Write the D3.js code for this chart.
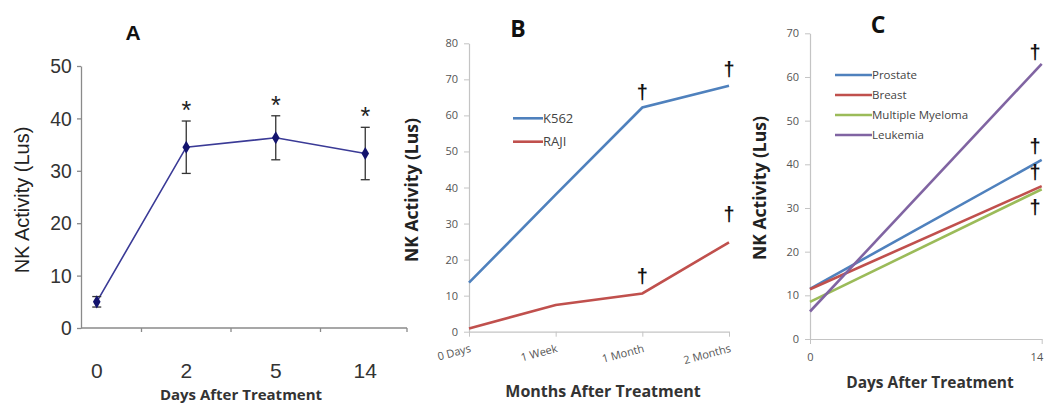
<!DOCTYPE html>
<html><head><meta charset="utf-8">
<script src="https://cdn.jsdelivr.net/npm/d3@7"></script>
<style>
html,body{margin:0;padding:0;background:#fff;}
svg{display:block;}
</style></head>
<body>
<svg id="chart" width="1044" height="403"></svg>
<script>
// ---------- DATA ----------
// Panel A
const daysA = ["0", "2", "5", "14"];
const meanA = [5.0, 34.5, 36.3, 33.3];
const errA = [1.0, 5.0, 4.2, 5.0];
const ticksA = [0, 10, 20, 30, 40, 50];
// Panel B
const catsB = ["0 Days", "1 Week", "1 Month", "2 Months"];
const k562 = [13.6, 38.0, 62.2, 68.2];
const raji = [0.9, 7.4, 10.6, 24.8];
const ticksB = [0, 10, 20, 30, 40, 50, 60, 70, 80];
const daggerB = [{c: "1 Month", v: 66.3}, {c: "2 Months", v: 72.6}, {c: "1 Month", v: 15.3}, {c: "2 Months", v: 32.4}];
// Panel C
const daysC = [0, 14];
const seriesNamesC = ["Prostate", "Breast", "Multiple Myeloma", "Leukemia"];
const prostate = [11.5, 41.0];
const breast = [11.4, 35.0];
const myeloma = [8.5, 34.3];
const leukemia = [6.3, 63.0];
const ticksC = [0, 10, 20, 30, 40, 50, 60, 70];
const daggerC = [{d: 13.6, v: 65.5}, {d: 13.6, v: 44.0}, {d: 13.6, v: 38.0}, {d: 13.6, v: 30.2}];

const svg = d3.select("#chart");
svg.append("rect").attr("width", 1044).attr("height", 403).attr("fill", "#fff");

const calib = "'Open Sans', 'Noto Sans', sans-serif";
const arial = "'Liberation Sans', Arial, sans-serif";

// ---------- PANEL A ----------
(function () {
  const g = svg.append("g");
  const y = d3.scaleLinear().domain([0, 50]).range([328, 66]);
  const x = d3.scaleBand().domain(daysA).range([52, 410]);
  const cx = d => x(d) + x.bandwidth() / 2;
  const axisCol = "#8a8a8a";

  const ya = g.append("g").attr("transform", "translate(81,0)")
    .call(d3.axisLeft(y).tickValues(ticksA).tickSize(4).tickSizeOuter(0).tickPadding(6));
  ya.select(".domain").attr("stroke", axisCol).attr("stroke-width", 1.3);
  ya.selectAll(".tick line").attr("stroke", axisCol).attr("stroke-width", 1.3);
  ya.selectAll(".tick text").attr("font-family", arial).attr("font-size", 21).attr("fill", "#333")
    .attr("transform", "scale(0.92,1)");

  g.append("line").attr("x1", 81).attr("x2", x.range()[1] - 3).attr("y1", y(0)).attr("y2", y(0))
    .attr("stroke", axisCol).attr("stroke-width", 1.3);
  g.selectAll(".xt").data(daysA).enter().append("line")
    .attr("x1", d => x(d) + x.bandwidth() - (d === "14" ? 3 : 0))
    .attr("x2", d => x(d) + x.bandwidth() - (d === "14" ? 3 : 0))
    .attr("y1", y(0)).attr("y2", y(0) + 4).attr("stroke", axisCol).attr("stroke-width", 1.3);
  g.selectAll(".xl").data(daysA).enter().append("text")
    .attr("x", d => cx(d)).attr("y", 378).attr("text-anchor", "middle")
    .attr("font-family", arial).attr("font-size", 21).attr("fill", "#333").text(d => d);

  const pts = daysA.map((d, i) => [cx(d), y(meanA[i])]);
  g.append("path").attr("d", d3.line()(pts)).attr("fill", "none").attr("stroke", "#3a3a96").attr("stroke-width", 1.6);
  daysA.forEach((d, i) => {
    const X = cx(d);
    const t = y(meanA[i] + errA[i]), b = y(meanA[i] - errA[i]);
    g.append("line").attr("x1", X).attr("x2", X).attr("y1", t).attr("y2", b).attr("stroke", "#333").attr("stroke-width", 1.3);
    [t, b].forEach(yy => g.append("line").attr("x1", X - 4.5).attr("x2", X + 4.5).attr("y1", yy).attr("y2", yy).attr("stroke", "#333").attr("stroke-width", 1.3));
  });
  g.selectAll(".mk").data(daysA).enter().append("path")
    .attr("d", d3.symbol().type(d3.symbolDiamond).size(50))
    .attr("transform", (d, i) => `translate(${cx(d)},${y(meanA[i])})`)
    .attr("fill", "#14146e");
  g.selectAll(".ast").data(daysA.slice(1)).enter().append("text")
    .attr("x", d => cx(d)).attr("y", (d, i) => y(meanA[i + 1] + errA[i + 1]) - 2)
    .attr("text-anchor", "middle").attr("font-family", arial).attr("font-size", 25).attr("fill", "#222").text("*");

  g.append("text").attr("x", 133).attr("y", 40).attr("text-anchor", "middle")
    .attr("font-family", arial).attr("font-weight", "bold").attr("font-size", 21).attr("fill", "#111").text("A");
  g.append("text").attr("transform", "translate(29,200) rotate(-90)").attr("text-anchor", "middle")
    .attr("font-family", arial).attr("font-size", 20).attr("fill", "#222").text("NK Activity (Lus)");
  g.append("text").attr("x", 241).attr("y", 400).attr("text-anchor", "middle")
    .attr("font-family", calib).attr("font-weight", "bold").attr("font-size", 15).attr("fill", "#333").text("Days After Treatment");
})();

// ---------- PANEL B ----------
(function () {
  const g = svg.append("g");
  const y = d3.scaleLinear().domain([0, 80]).range([331.7, 43.3]);
  const x = d3.scalePoint().domain(catsB).range([469, 729]);
  const axisCol = "#c4c4c4";

  const ya = g.append("g").attr("transform", "translate(469,0)")
    .call(d3.axisLeft(y).tickValues(ticksB).tickSize(5).tickSizeOuter(0).tickPadding(6));
  ya.select(".domain").attr("stroke", axisCol).attr("stroke-width", 1.2);
  ya.selectAll(".tick line").attr("stroke", axisCol);
  ya.selectAll(".tick text").attr("font-family", calib).attr("font-size", 11).attr("fill", "#555");

  const xa = g.append("g").attr("transform", `translate(0,${y(0)})`)
    .call(d3.axisBottom(x).tickSize(5).tickSizeOuter(0));
  xa.select(".domain").attr("stroke", axisCol).attr("stroke-width", 1.2);
  xa.selectAll(".tick line").attr("stroke", axisCol);
  xa.selectAll(".tick text").attr("font-family", calib).attr("font-size", 11).attr("fill", "#555")
    .attr("text-anchor", "end").attr("dy", 0).attr("y", 0)
    .attr("transform", "translate(2,20) rotate(-15)");

  const line = d3.line().x((d, i) => x(catsB[i])).y(d => y(d));
  g.append("path").attr("d", line(k562)).attr("fill", "none").attr("stroke", "#4f81bd").attr("stroke-width", 2.6);
  g.append("path").attr("d", line(raji)).attr("fill", "none").attr("stroke", "#c0504d").attr("stroke-width", 2.6);

  g.selectAll(".dg").data(daggerB).enter().append("text")
    .attr("x", d => x(d.c)).attr("y", d => y(d.v)).attr("dy", "0.32em").attr("text-anchor", "middle")
    .attr("font-family", arial).attr("font-weight", "bold").attr("font-size", 20).attr("fill", "#111").text("\u2020");

  const leg = [["K562", "#4f81bd"], ["RAJI", "#c0504d"]];
  leg.forEach((l, i) => {
    const yy = 118.3 + i * 23.4;
    g.append("line").attr("x1", 513).attr("x2", 543).attr("y1", yy).attr("y2", yy).attr("stroke", l[1]).attr("stroke-width", 2.6);
    g.append("text").attr("x", 543).attr("y", yy).attr("dy", "0.35em").attr("font-family", calib).attr("font-size", 13)
      .attr("fill", "#444").text(l[0]);
  });

  g.append("text").attr("x", 518).attr("y", 37).attr("text-anchor", "middle")
    .attr("font-family", calib).attr("font-weight", "bold").attr("font-size", 23).attr("fill", "#111").text("B");
  g.append("text").attr("transform", "translate(418,190) rotate(-90)").attr("text-anchor", "middle")
    .attr("font-family", calib).attr("font-weight", "bold").attr("font-size", 17.5).attr("fill", "#222").text("NK Activity (Lus)");
  g.append("text").attr("x", 603).attr("y", 397).attr("text-anchor", "middle")
    .attr("font-family", calib).attr("font-weight", "bold").attr("font-size", 16).attr("fill", "#333").text("Months After Treatment");
})();

// ---------- PANEL C ----------
(function () {
  const g = svg.append("g");
  const y = d3.scaleLinear().domain([0, 70]).range([339, 33.3]);
  const x = d3.scaleLinear().domain([0, 14]).range([810, 1041.7]);
  const axisCol = "#c4c4c4";

  const ya = g.append("g").attr("transform", "translate(810,0)")
    .call(d3.axisLeft(y).tickValues(ticksC).tickSize(5).tickSizeOuter(0).tickPadding(6));
  ya.select(".domain").attr("stroke", axisCol).attr("stroke-width", 1.2);
  ya.selectAll(".tick line").attr("stroke", axisCol);
  ya.selectAll(".tick text").attr("font-family", calib).attr("font-size", 11).attr("fill", "#555");

  const xa = g.append("g").attr("transform", `translate(0,${y(0)})`)
    .call(d3.axisBottom(x).tickValues(daysC).tickSize(5).tickSizeOuter(0).tickPadding(9));
  xa.select(".domain").attr("stroke", axisCol).attr("stroke-width", 1.2);
  xa.selectAll(".tick line").attr("stroke", axisCol);
  xa.selectAll(".tick text").attr("font-family", calib).attr("font-size", 11).attr("fill", "#555")
    .attr("text-anchor", d => d === 14 ? "end" : "middle").attr("dx", d => d === 14 ? 1 : 0);

  const ser = [prostate, breast, myeloma, leukemia];
  const cols = ["#4f81bd", "#c0504d", "#9bbb59", "#8064a2"];
  const line = d3.line().x((d, i) => x(daysC[i])).y(d => y(d));
  [0, 2, 1, 3].forEach(k => {
    g.append("path").attr("d", line(ser[k])).attr("fill", "none").attr("stroke", cols[k]).attr("stroke-width", 2.6);
  });

  g.selectAll(".dg").data(daggerC).enter().append("text")
    .attr("x", d => x(d.d)).attr("y", d => y(d.v)).attr("dy", "0.32em").attr("text-anchor", "middle")
    .attr("font-family", arial).attr("font-weight", "bold").attr("font-size", 20).attr("fill", "#111").text("\u2020");

  seriesNamesC.forEach((n, i) => {
    const yy = 75 + i * 20;
    g.append("line").attr("x1", 835).attr("x2", 872).attr("y1", yy).attr("y2", yy).attr("stroke", cols[i]).attr("stroke-width", 2.6);
    g.append("text").attr("x", 872).attr("y", yy).attr("dy", "0.35em").attr("font-family", calib).attr("font-size", 11.5)
      .attr("fill", "#444").text(n);
  });

  g.append("text").attr("x", 878).attr("y", 33).attr("text-anchor", "middle")
    .attr("font-family", calib).attr("font-weight", "bold").attr("font-size", 23).attr("fill", "#111").text("C");
  g.append("text").attr("transform", "translate(766,188) rotate(-90)").attr("text-anchor", "middle")
    .attr("font-family", calib).attr("font-weight", "bold").attr("font-size", 17.5).attr("fill", "#222").text("NK Activity (Lus)");
  g.append("text").attr("x", 930).attr("y", 388).attr("text-anchor", "middle")
    .attr("font-family", calib).attr("font-weight", "bold").attr("font-size", 15.5).attr("fill", "#333").text("Days After Treatment");
})();
</script>
</body></html>
